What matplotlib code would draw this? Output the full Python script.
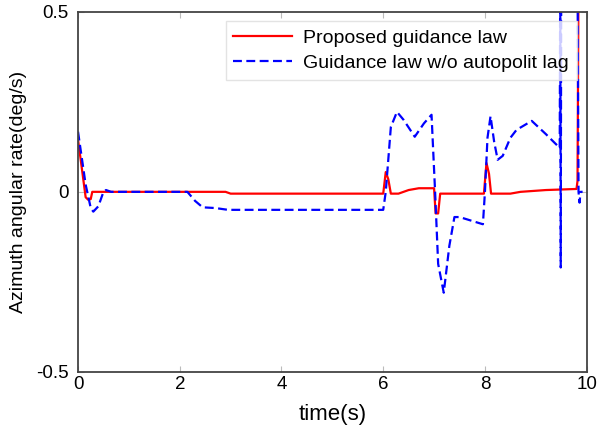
import numpy as np
import matplotlib.pyplot as plt

plt.rcParams['font.family'] = ['Liberation Sans', 'DejaVu Sans']

# proposed guidance law (red)
t_prop = [0.0, 0.15, 0.2, 0.25, 0.28, 2.9, 3.0, 6.0, 6.05, 6.1, 6.15, 6.3, 6.5,
          6.7, 7.0, 7.03, 7.08, 7.12, 7.5, 7.98, 8.03, 8.08, 8.12, 8.5, 8.7,
          9.2, 9.8, 9.82, 9.84, 10.0]
y_prop = [0.145, -0.015, -0.022, -0.02, 0.0, 0.0, -0.005, -0.005, 0.055, 0.035,
          -0.005, -0.005, 0.005, 0.01, 0.01, -0.06, -0.06, -0.005, -0.005,
          -0.005, 0.08, 0.05, -0.005, -0.005, 0.0, 0.005, 0.008, 0.03, 0.6, 0.6]

# guidance law without autopilot lag (blue)
t_nolag = [0.0, 0.15, 0.25, 0.3, 0.4, 0.5, 0.55, 0.65, 2.15, 2.3, 2.45, 2.7,
           2.95, 6.0, 6.05, 6.15, 6.27, 6.4, 6.62, 6.8, 6.95, 7.02, 7.08, 7.19,
           7.3, 7.4, 7.5, 7.96, 8.0, 8.05, 8.11, 8.18, 8.25, 8.35, 8.5, 8.62,
           8.92, 9.2, 9.47, 9.48, 9.49, 9.5, 9.82, 9.84, 9.86, 9.88, 9.92]
y_nolag = [0.167, 0.02, -0.045, -0.055, -0.04, 0.0, 0.005, 0.0, 0.0, -0.025,
           -0.043, -0.045, -0.05, -0.05, 0.0, 0.18, 0.222, 0.2, 0.153, 0.19,
           0.214, 0.0, -0.2, -0.28, -0.15, -0.07, -0.07, -0.09, 0.0, 0.15,
           0.21, 0.14, 0.089, 0.1, 0.15, 0.172, 0.197, 0.16, 0.122, 0.6, -0.21,
           0.6, 0.6, 0.0, -0.03, 0.0, 0.0]

fig = plt.figure(figsize=(5.97, 4.36), dpi=100)
ax = fig.add_axes([0.1307, 0.147, 0.852, 0.826])

ax.plot(t_prop, y_prop, color='red', lw=1.6, label='Proposed guidance law')
ax.plot(t_nolag, y_nolag, color='blue', lw=1.6, linestyle=(0, (4, 2)),
        label='Guidance law w/o autopolit lag')

ax.set_xlim(0, 10)
ax.set_ylim(-0.5, 0.5)
ax.set_xticks([0, 2, 4, 6, 8, 10])
ax.set_yticks([-0.5, 0, 0.5])
ax.set_yticklabels(['-0.5', '0', '0.5'])
ax.tick_params(direction='in', length=4, color='#bbbbbb', labelsize=13.5,
               top=True, right=True, pad=3)
ax.tick_params(axis='y', pad=7)
for s in ax.spines.values():
    s.set_color('#444444')
    s.set_linewidth(1.3)

ax.set_xlabel('time(s)', fontsize=16, labelpad=8)
ax.set_ylabel('Azimuth angular rate(deg/s)', fontsize=14, labelpad=6)

leg = ax.legend(loc='upper right', fontsize=14, frameon=True, fancybox=False,
                handlelength=3.0, handletextpad=0.6, borderaxespad=0.5,
                labelspacing=0.4, borderpad=0.4)
leg.get_frame().set_edgecolor('#dddddd')
leg.get_frame().set_linewidth(1.0)

fig.savefig('out.png', dpi=100)
